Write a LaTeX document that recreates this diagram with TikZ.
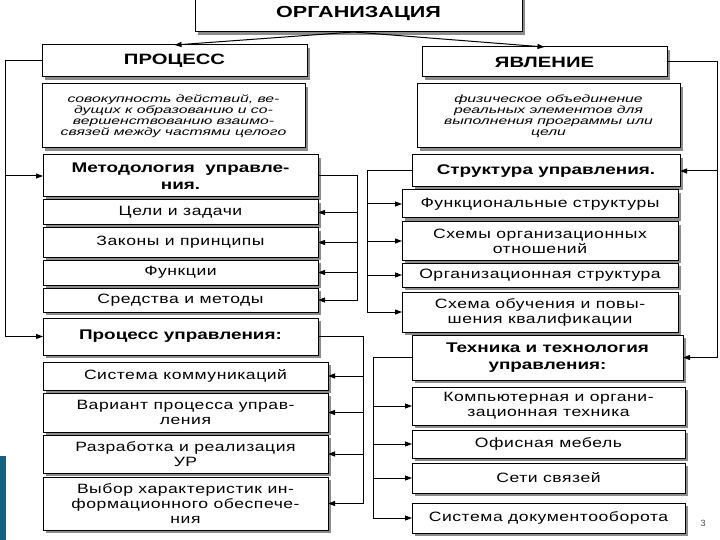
\documentclass[tikz,border=0pt]{standalone}
\usepackage{fontspec}
\setmainfont{Liberation Sans}
\newfontfamily\rgfont[FakeStretch=1.3,LetterSpace=4]{Liberation Sans}
\newfontfamily\bdfont[FakeStretch=1.35]{Liberation Sans}
\newfontfamily\dsfont[FakeStretch=1.5]{Liberation Sans}
\usetikzlibrary{arrows.meta,shadows}
\tikzset{
 box/.style={draw=black, line width=1pt, fill=white, inner sep=0pt, outer sep=0pt, align=center,
   drop shadow={shadow xshift=3pt, shadow yshift=-3pt, fill=black!45, opacity=1}},
 reg/.style={font=\rgfont\fontsize{13.5}{15}\selectfont},
 bld/.style={font=\bdfont\bfseries\fontsize{14}{17}\selectfont},
 hd/.style={font=\bdfont\bfseries\fontsize{15}{16}\selectfont},
 dsc/.style={font=\dsfont\itshape\fontsize{10.5}{11}\selectfont},
 ln/.style={line width=1pt},
 arr/.style={line width=1pt, -{Triangle[length=7pt,width=5pt]}},
}
\newcommand\bx[7]{\node[box,#6,minimum width={(#4-#2)*1pt},minimum height={(#5-#3)*1pt},anchor=north west] (#1) at (#2,#3) {#7};}
\begin{document}
\begin{tikzpicture}[x=1pt,y=-1pt]
\useasboundingbox (0,0) rectangle (720,540);
\fill[fill={rgb,255:red,27;green,94;blue,128}] (0,456) rectangle (6,540);
% top
\bx{org}{195}{-4}{522}{32}{font=\bdfont\bfseries\fontsize{16}{18}\selectfont}{ОРГАНИЗАЦИЯ}
\bx{proc}{42}{45}{307}{77}{hd}{ПРОЦЕСС}
\bx{procd}{42}{84}{305}{148}{dsc}{совокупность действий, ве-\\дущих к образованию и со-\\вершенствованию взаимо-\\связей между частями целого}
\bx{yav}{422}{47}{667}{77}{hd}{ЯВЛЕНИЕ}
\bx{yavd}{417}{84}{680}{148}{dsc}{физическое объединение\\реальных элементов для\\выполнения программы или\\цели}
% left column
\bx{meth}{43}{155}{318}{197}{bld}{Методология\ \ управле-\\ния.}
\bx{goals}{43}{200}{318}{225}{reg}{Цели и задачи}
\bx{laws}{43}{228}{318}{257}{reg}{Законы и принципы}
\bx{func}{43}{260}{318}{285}{reg}{Функции}
\bx{means}{43}{288}{318}{312}{reg}{Средства и методы}
\bx{pu}{43}{318}{318}{355}{bld}{Процесс управления:}
\bx{comm}{43}{362}{328}{390}{reg}{Система коммуникаций}
\bx{var}{43}{393}{328}{432}{reg}{Вариант процесса управ-\\ления}
\bx{dev}{43}{435}{328}{473}{reg}{Разработка и реализация\\УР}
\bx{choice}{43}{477}{328}{530}{reg}{Выбор характеристик ин-\\формационного обеспече-\\ния}
% right column
\bx{struct}{412}{155}{680}{187}{bld}{Структура управления.}
\bx{funcs}{402}{190}{678}{218}{reg}{Функциональные структуры}
\bx{schemes}{402}{222}{678}{260}{reg}{Схемы организационных\\отношений}
\bx{orgs}{402}{263}{678}{287}{reg}{Организационная структура}
\bx{train}{402}{292}{678}{332}{reg}{Схема обучения и повы-\\шения квалификации}
\bx{tech}{412}{335}{683}{380}{bld}{Техника и технология\\управления:}
\bx{comp}{412}{387}{685}{425}{reg}{Компьютерная и органи-\\зационная техника}
\bx{furn}{412}{430}{685}{458}{reg}{Офисная мебель}
\bx{net}{412}{463}{685}{493}{reg}{Сети связей}
\bx{docs}{412}{503}{685}{533}{reg}{Система документооборота}
\node[font=\fontsize{9}{9}\selectfont, text=black!70] (pg) at (703,523) {3};
% connectors
\coordinate (os) at ([xshift=-5pt]org.south);
\draw[arr] (os) -- (proc.north);
\draw[arr] (os) -- (yav.north);
\coordinate (lx) at (5,0);
\coordinate (rx) at (717,0);
\coordinate (mx) at (357,0);
\coordinate (px) at (363,0);
\coordinate (sx) at (367,0);
\coordinate (tx) at (373,0);
\draw[arr] (proc.west) -- (proc.west -| lx) |- (pu.west);
\draw[arr] (meth.west -| lx) -- (meth.west);
\draw[arr] (yav.east) -- (yav.east -| rx) |- (tech.east);
\draw[arr] (struct.east -| rx) -- (struct.east);
\draw[arr] (meth.east) -- (meth.east -| mx) |- (means.east);
\foreach \n in {goals,laws,func} \draw[arr] (\n.east -| mx) -- (\n.east);
\draw[arr] (pu.east) -- (pu.east -| px) |- (choice.east);
\foreach \n in {comm,var,dev} \draw[arr] (\n.east -| px) -- (\n.east);
\draw[arr] (struct.west) -- (struct.west -| sx) |- (train.west);
\foreach \n in {funcs,schemes,orgs} \draw[arr] (\n.west -| sx) -- (\n.west);
\draw[arr] (tech.west) -- (tech.west -| tx) |- (docs.west);
\foreach \n in {comp,furn,net} \draw[arr] (\n.west -| tx) -- (\n.west);
\end{tikzpicture}
\end{document}
